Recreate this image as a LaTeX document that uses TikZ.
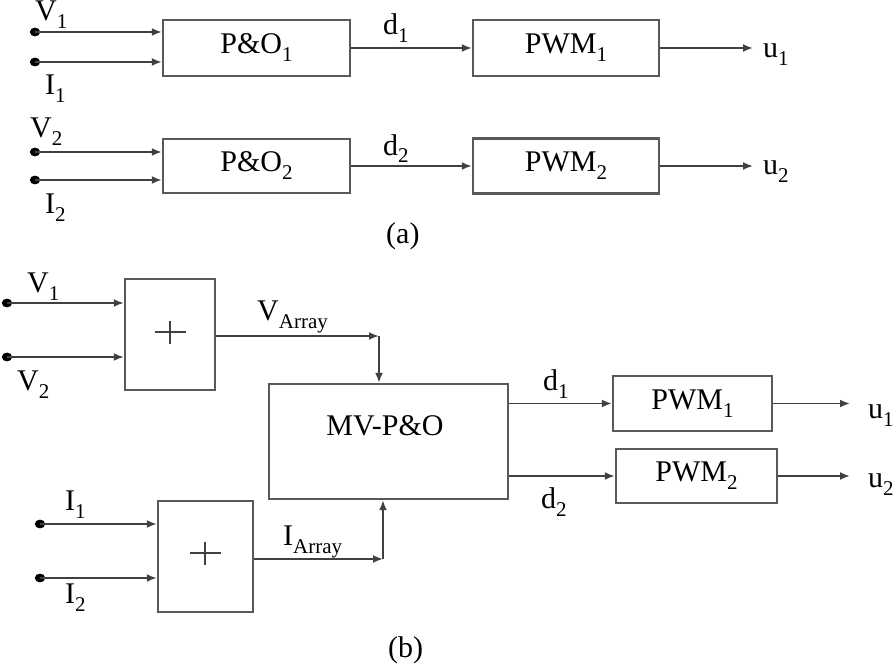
\documentclass[tikz,border=0pt]{standalone}
\usepackage{fontspec}
\setmainfont{Liberation Serif}
\usepackage{graphicx}
\usetikzlibrary{arrows.meta}
\newcommand\sbs[1]{\raisebox{-8pt}{\fontsize{21}{21}\selectfont #1}}
\definecolor{linec}{gray}{0.25}
\definecolor{boxc}{gray}{0.35}
\tikzset{
  blk/.style={draw=boxc, line width=2.4pt, inner sep=0pt, fill=white},
  lbl/.style={anchor=base west, inner sep=0pt},
  conn/.style={draw=linec, line width=1.9pt, -{Latex[length=10pt,width=8pt]}},
}
\begin{document}
\begin{tikzpicture}[x=1pt,y=-1pt, font=\fontsize{30}{36}\selectfont]
\useasboundingbox (0,0) rectangle (894,666);
% ---------- (a) ----------
\node[blk, minimum width=187pt, minimum height=56pt] (po1) at (256.5,48) {P\&O\sbs{1}};
\node[blk, minimum width=187pt, minimum height=54pt] (po2) at (256.5,166) {P\&O\sbs{2}};
\node[blk, minimum width=186pt, minimum height=56pt] (pwa1) at (566,48) {PWM\sbs{1}};
\node[blk, minimum width=186pt, minimum height=55pt] (pwa2) at (566,166) {PWM\sbs{2}};
\foreach \n/\y in {dv1a/32, di1a/62, dv2a/152, di2a/180}{
  \fill (35,\y) ellipse (5.2pt and 4.4pt);
  \coordinate (\n) at (35,\y);
}
\draw[conn] (dv1a) -- (dv1a -| po1.west);
\draw[conn] (di1a) -- (di1a -| po1.west);
\draw[conn] (dv2a) -- (dv2a -| po2.west);
\draw[conn] (di2a) -- (di2a -| po2.west);
\draw[conn] (po1.east) -- (pwa1.west);
\draw[conn] (po2.east) -- (pwa2.west);
\coordinate (u1a) at (753,48);
\coordinate (u2a) at (753,166);
\draw[conn] (pwa1.east) -- (u1a);
\draw[conn] (pwa2.east) -- (u2a);
\node[lbl] (tv1a) at (35,21) {V\sbs{1}};
\node[lbl] (ti1a) at (45,95) {I\sbs{1}};
\node[lbl] (tv2a) at (30,138) {V\sbs{2}};
\node[lbl] (ti2a) at (45,213) {I\sbs{2}};
\node[lbl] (td1a) at (383,35) {d\sbs{1}};
\node[lbl] (td2a) at (383,155) {d\sbs{2}};
\node[lbl] (tu1a) at (763,58) {u\sbs{1}};
\node[lbl] (tu2a) at (763,175) {u\sbs{2}};
\node[lbl] (capa) at (386,243) {(a)};
% ---------- (b) ----------
\node[blk, minimum width=90pt, minimum height=111pt] (sv) at (170,334.5) {};
\node[blk, minimum width=95pt, minimum height=111pt] (si) at (205.5,556.5) {};
\node[blk, minimum width=239pt, minimum height=115pt] (mv) at (388.5,441.5) {};
\node[anchor=base, inner sep=0pt] (mvt) at (385,435) {MV-P\&O};
\node[blk, minimum width=159pt, minimum height=55pt] (pwb1) at (692.5,403.5) {PWM\sbs{1}};
\node[blk, minimum width=161pt, minimum height=54pt] (pwb2) at (696.5,476) {PWM\sbs{2}};
\draw[draw=linec, line width=1.6pt] (154.5,332) -- (185.5,332) (170,320.5) -- (170,343.5);
\draw[draw=linec, line width=1.6pt] (189.5,553) -- (220.5,553) (205,541.5) -- (205,564.5);
\foreach \n/\x/\y in {dv1b/7/303, dv2b/7/357, di1b/40/524, di2b/40/578}{
  \fill (\x,\y) ellipse (5.2pt and 4.4pt);
  \coordinate (\n) at (\x,\y);
}
\draw[conn] (dv1b) -- (dv1b -| sv.west);
\draw[conn] (dv2b) -- (dv2b -| sv.west);
\draw[conn] (di1b) -- (di1b -| si.west);
\draw[conn] (di2b) -- (di2b -| si.west);
\coordinate (cv) at (379,336);
\coordinate (ci) at (383,559);
\draw[conn] (sv.east |- cv) -- (cv);
\draw[conn] (cv) -- (cv |- mv.north);
\draw[conn] (si.east |- ci) -- (ci);
\draw[conn] (ci) -- (ci |- mv.south);
\draw[conn] (mv.east |- pwb1.west) -- (pwb1.west);
\draw[conn] (mv.east |- pwb2.west) -- (pwb2.west);
\coordinate (u1b) at (850,403.5);
\coordinate (u2b) at (850,476);
\draw[conn] (pwb1.east) -- (u1b);
\draw[conn] (pwb2.east) -- (u2b);
\node[lbl] (tv1b) at (27,292) {V\sbs{1}};
\node[lbl] (tv2b) at (17,390) {V\sbs{2}};
\node[lbl] (ti1b) at (65,510) {I\sbs{1}};
\node[lbl] (ti2b) at (65,603) {I\sbs{2}};
\node[lbl] (tva) at (257,320) {V\sbs{Array}};
\node[lbl] (tia) at (283,545) {I\sbs{Array}};
\node[lbl] (td1b) at (543,390) {d\sbs{1}};
\node[lbl] (td2b) at (541,508) {d\sbs{2}};
\node[lbl] (tu1b) at (868,418) {u\sbs{1}};
\node[lbl] (tu2b) at (868,487) {u\sbs{2}};
\node[lbl] (capb) at (388,657) {(b)};
\end{tikzpicture}
\end{document}
